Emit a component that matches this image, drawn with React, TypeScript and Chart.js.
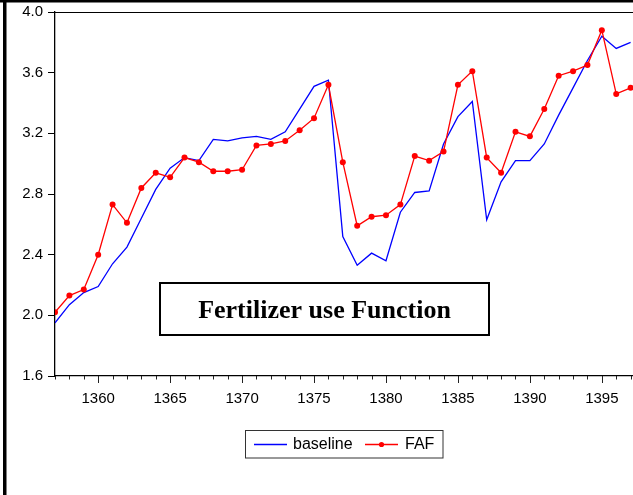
import React, { useEffect, useRef } from "react";
import { Chart, registerables } from "chart.js";

Chart.register(...registerables);

const years: number[] = [
  1357, 1358, 1359, 1360, 1361, 1362, 1363, 1364, 1365, 1366, 1367, 1368, 1369, 1370,
  1371, 1372, 1373, 1374, 1375, 1376, 1377, 1378, 1379, 1380, 1381, 1382, 1383, 1384,
  1385, 1386, 1387, 1388, 1389, 1390, 1391, 1392, 1393, 1394, 1395, 1396, 1397,
];

const baseline: number[] = [
  1.95, 2.07, 2.15, 2.19, 2.34, 2.45, 2.64, 2.83, 2.97, 3.04, 3.02, 3.16, 3.15, 3.17,
  3.18, 3.16, 3.21, 3.36, 3.51, 3.55, 2.52, 2.33, 2.41, 2.36, 2.68, 2.81, 2.82, 3.13,
  3.31, 3.41, 2.63, 2.88, 3.02, 3.02, 3.13, 3.32, 3.5, 3.68, 3.84, 3.76, 3.8,
];

const faf: number[] = [
  2.02, 2.13, 2.17, 2.4, 2.73, 2.61, 2.84, 2.94, 2.91, 3.04, 3.01, 2.95, 2.95, 2.96,
  3.12, 3.13, 3.15, 3.22, 3.3, 3.52, 3.01, 2.59, 2.65, 2.66, 2.73, 3.05, 3.02, 3.08,
  3.52, 3.61, 3.04, 2.94, 3.21, 3.18, 3.36, 3.58, 3.61, 3.65, 3.88, 3.46, 3.5,
];

const seriesNames: string[] = ["baseline", "FAF"];
const chartTitle = "Fertilizer use Function";
const yTickValues: number[] = [1.6, 2.0, 2.4, 2.8, 3.2, 3.6, 4.0];

const X_MIN = 1357;
const X_MAX = 1398;
const Y_MIN = 1.6;
const Y_MAX = 4.0;

const W = 649;
const H = 495;
const SANS = "'Liberation Sans', Arial, sans-serif";
const SERIF = "'Liberation Serif', 'Times New Roman', serif";

const decorPlugin = {
  id: "decor",
  beforeDraw(chart: any) {
    const { ctx, width, height } = chart;
    ctx.save();
    ctx.fillStyle = "#ffffff";
    ctx.fillRect(0, 0, width, height);
    ctx.fillStyle = "#000000";
    ctx.fillRect(3, 0, 3.5, height);
    ctx.fillRect(0, 0, width, 2.5);
    ctx.restore();
  },
  afterDraw(chart: any) {
    const { ctx, chartArea: a } = chart;
    const x = chart.scales.x;
    ctx.save();
    // top frame of plot
    ctx.strokeStyle = "#000000";
    ctx.lineWidth = 1;
    ctx.beginPath();
    ctx.moveTo(a.left, a.top + 0.5);
    ctx.lineTo(a.right, a.top + 0.5);
    ctx.stroke();
    // x tick marks
    ctx.strokeStyle = "#222222";
    ctx.lineWidth = 1;
    for (let yr = X_MIN; yr <= X_MAX; yr++) {
      const px = Math.round(x.getPixelForValue(yr)) + 0.5;
      const len = yr % 5 === 0 ? 7 : 3.5;
      ctx.beginPath();
      ctx.moveTo(px, a.bottom);
      ctx.lineTo(px, a.bottom + len);
      ctx.stroke();
    }
    // title box
    ctx.fillStyle = "#ffffff";
    ctx.fillRect(159, 282, 331, 54);
    ctx.strokeStyle = "#000000";
    ctx.lineWidth = 2;
    ctx.strokeRect(160, 283, 329, 52);
    ctx.fillStyle = "#000000";
    ctx.font = `bold 26px ${SERIF}`;
    ctx.textAlign = "center";
    ctx.textBaseline = "alphabetic";
    ctx.fillText(chartTitle, 324.5, 318);
    // legend
    ctx.fillStyle = "#ffffff";
    ctx.fillRect(245, 430, 198, 28);
    ctx.strokeStyle = "#333333";
    ctx.lineWidth = 1;
    ctx.strokeRect(245.5, 430.5, 197.5, 27.5);
    const ly = 444.5;
    const ds = chart.data.datasets;
    ctx.strokeStyle = ds[0].borderColor;
    ctx.lineWidth = 1.3;
    ctx.beginPath();
    ctx.moveTo(254, ly);
    ctx.lineTo(287, ly);
    ctx.stroke();
    ctx.fillStyle = "#000000";
    ctx.font = `16px ${SANS}`;
    ctx.textAlign = "left";
    ctx.textBaseline = "middle";
    ctx.fillText(ds[0].label, 293, ly);
    ctx.strokeStyle = ds[1].borderColor;
    ctx.beginPath();
    ctx.moveTo(365, ly);
    ctx.lineTo(398, ly);
    ctx.stroke();
    ctx.fillStyle = ds[1].borderColor;
    ctx.beginPath();
    ctx.arc(381.5, ly, 2.6, 0, Math.PI * 2);
    ctx.fill();
    ctx.fillStyle = "#000000";
    ctx.fillText(ds[1].label, 405, ly);
    ctx.restore();
  },
};

export default function App() {
  const canvasRef = useRef<HTMLCanvasElement | null>(null);

  useEffect(() => {
    const canvas = canvasRef.current;
    if (!canvas) return;
    const chart = new Chart(canvas, {
      type: "line",
      data: {
        datasets: [
          {
            label: seriesNames[0],
            data: years.map((yr, i) => ({ x: yr, y: baseline[i] })),
            borderColor: "#0000ff",
            backgroundColor: "#0000ff",
            borderWidth: 1.3,
            pointRadius: 0,
            tension: 0,
            order: 1,
          },
          {
            label: seriesNames[1],
            data: years.map((yr, i) => ({ x: yr, y: faf[i] })),
            borderColor: "#ff0000",
            backgroundColor: "#ff0000",
            borderWidth: 1.3,
            pointRadius: 3,
            pointBorderWidth: 0,
            pointBackgroundColor: "#ff0000",
            tension: 0,
            order: 0,
          },
        ],
      },
      options: {
        responsive: false,
        animation: false,
        devicePixelRatio: 1,
        layout: { padding: { left: 0, top: 12, right: 0, bottom: 0 } },
        plugins: {
          legend: { display: false },
          tooltip: { enabled: false },
          title: { display: false },
        },
        scales: {
          x: {
            type: "linear",
            min: X_MIN,
            max: X_MAX,
            afterFit: (s: any) => {
              s.height = H - 376;
              s.paddingLeft = 0;
              s.paddingRight = 0;
            },
            afterBuildTicks: (s: any) => {
              const t = [];
              for (let v = X_MIN; v <= X_MAX; v++) t.push({ value: v });
              s.ticks = t;
            },
            ticks: {
              autoSkip: false,
              maxRotation: 0,
              padding: 14,
              color: "#000000",
              font: { family: SANS, size: 15 },
              callback: (v: any) => (Number(v) % 5 === 0 && Number(v) < X_MAX ? String(v) : ""),
            },
            grid: { drawOnChartArea: false, drawTicks: false },
            border: { display: true, color: "#000000", width: 1.3 },
          },
          y: {
            type: "linear",
            min: Y_MIN,
            max: Y_MAX,
            afterFit: (s: any) => {
              s.width = 55;
              s.paddingTop = 0;
              s.paddingBottom = 0;
            },
            afterBuildTicks: (s: any) => {
              s.ticks = yTickValues.map((v) => ({ value: v }));
            },
            ticks: {
              padding: 5,
              color: "#000000",
              font: { family: SANS, size: 15 },
              callback: (v: any) => Number(v).toFixed(1),
            },
            grid: {
              drawOnChartArea: false,
              drawTicks: true,
              tickLength: 7,
              tickColor: "#000000",
            },
            border: { display: true, color: "#000000", width: 1.3 },
          },
        },
      },
      plugins: [decorPlugin],
    });
    return () => chart.destroy();
  }, []);

  return (
    <div
      style={{
        position: "fixed",
        left: 0,
        top: 0,
        width: 633,
        height: H,
        overflow: "hidden",
        background: "#ffffff",
      }}
    >
      <canvas ref={canvasRef} width={W} height={H} style={{ display: "block", width: W, height: H }} />
    </div>
  );
}
